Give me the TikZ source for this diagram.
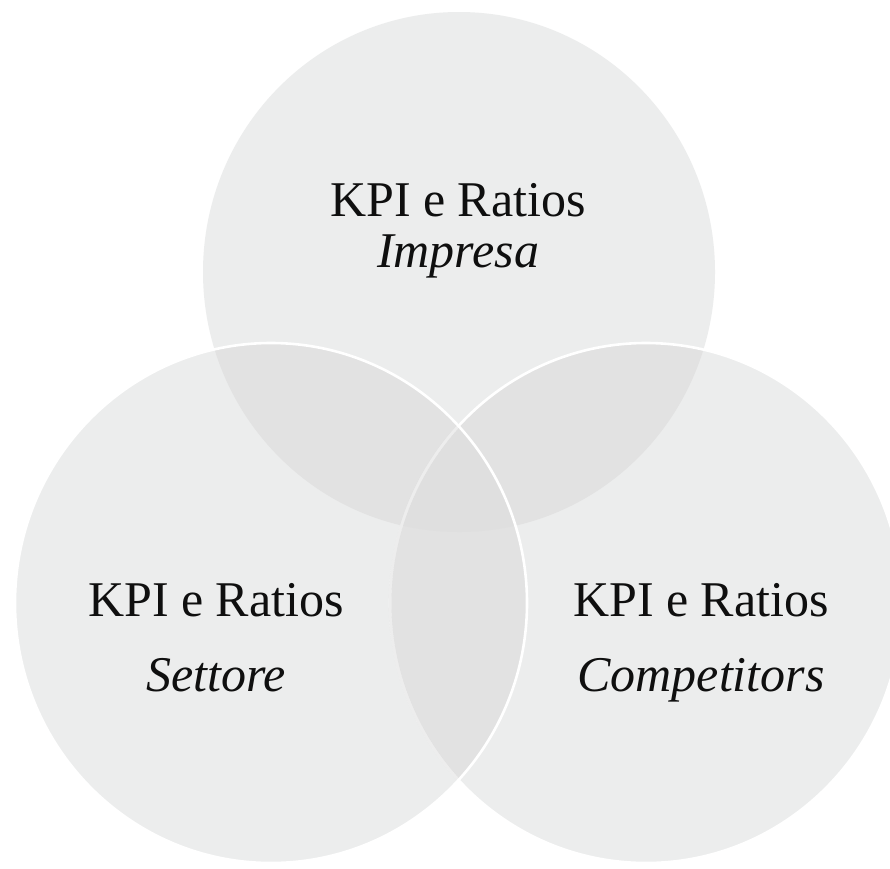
\documentclass[tikz,border=0pt]{standalone}
\usepackage{fontspec}
\setmainfont{Liberation Serif}
\definecolor{cSingle}{RGB}{236,237,237}
\definecolor{cDouble}{RGB}{226,226,226}
\definecolor{cTriple}{RGB}{223,223,223}
\definecolor{ink}{RGB}{15,15,15}
\begin{document}
\begin{tikzpicture}[x=1pt,y=1pt]
\tikzset{
  lbl/.style={font=\fontsize{50}{60}\selectfont, text=ink, anchor=base, inner sep=0pt},
  sublbl/.style={lbl, font=\fontsize{50}{60}\selectfont\itshape},
  ring/.style={draw=white, line width=2.6pt}
}
\useasboundingbox (0,0) rectangle (890,-868);
\fill[white] (0,0) rectangle (890,-868);
\coordinate (T) at (459,-272);
\coordinate (L) at (271,-603);
\coordinate (R) at (646,-603);
\def\circT{(T) ellipse [x radius=256pt, y radius=260pt]}
\def\circL{(L) ellipse [x radius=256pt, y radius=260pt]}
\def\circR{(R) ellipse [x radius=256pt, y radius=260pt]}
% single regions
\fill[cSingle] \circT;
\fill[cSingle] \circL;
\fill[cSingle] \circR;
% pairwise overlaps
\begin{scope}
  \clip \circT;
  \fill[cDouble] \circL;
  \fill[cDouble] \circR;
\end{scope}
\begin{scope}
  \clip \circL;
  \fill[cDouble] \circR;
\end{scope}
% triple overlap
\begin{scope}
  \clip \circT;
  \clip \circL;
  \fill[cTriple] \circR;
\end{scope}
% borders
\draw[ring] \circR;
\begin{scope}
  \clip \circL;
  \draw[draw=cTriple, draw opacity=0.55, line width=2.8pt] \circR;
\end{scope}
\draw[ring] \circL;
% labels
\node[lbl] (t1) at (458,-216) {KPI e Ratios};
\node[sublbl] (t2) at (458,-267) {Impresa};
\node[lbl] (l1) at (216,-616) {KPI e Ratios};
\node[sublbl] (l2) at (216,-691) {Settore};
\node[lbl] (r1) at (701,-616) {KPI e Ratios};
\node[sublbl] (r2) at (701,-691) {Competitors};
\end{tikzpicture}
\end{document}
